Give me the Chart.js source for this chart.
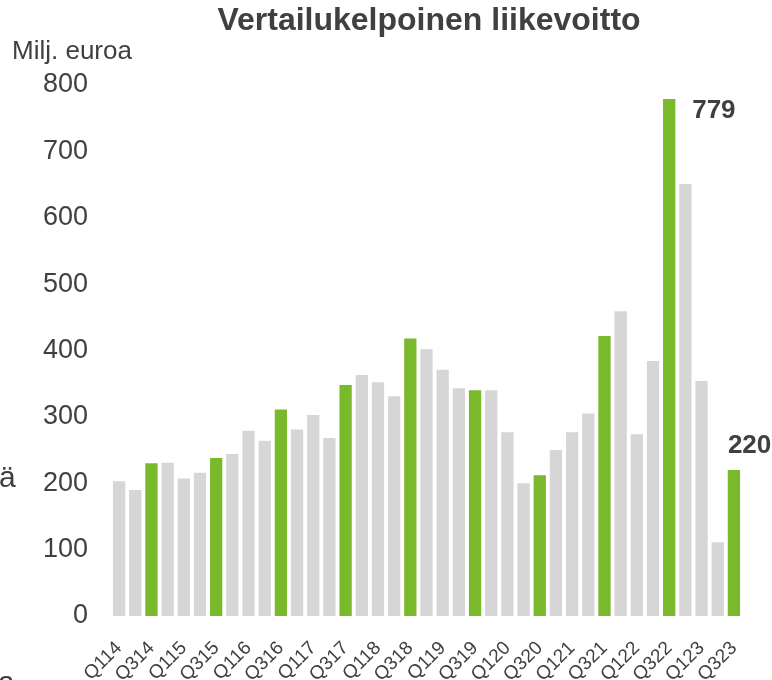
<!DOCTYPE html>
<html>
<head>
<meta charset="utf-8">
<script src="https://cdn.jsdelivr.net/npm/chart.js@4/dist/chart.umd.min.js"></script>
<style>
  body { margin: 0; background: #ffffff; }
  #wrap { width: 772px; height: 680px; position: relative; overflow: hidden; }
</style>
</head>
<body>
<div id="wrap"><canvas id="profitChart" width="772" height="680"></canvas></div>
<script>
const categories = [
    'Q114', 'Q214', 'Q314', 'Q414',
    'Q115', 'Q215', 'Q315', 'Q415',
    'Q116', 'Q216', 'Q316', 'Q416',
    'Q117', 'Q217', 'Q317', 'Q417',
    'Q118', 'Q218', 'Q318', 'Q418',
    'Q119', 'Q219', 'Q319', 'Q419',
    'Q120', 'Q220', 'Q320', 'Q420',
    'Q121', 'Q221', 'Q321', 'Q421',
    'Q122', 'Q222', 'Q322', 'Q422',
    'Q123', 'Q223', 'Q323'
]
const profitValues = [
    203, 190, 230, 231,
    207, 216, 238, 244,
    279, 264, 311, 281,
    303, 268, 348, 363,
    352, 331, 418, 402,
    371, 343, 340, 340,
    277, 200, 212, 250,
    277, 305, 422, 459,
    274, 384, 779, 651,
    354, 111, 220
]
const labelledBars = ['Q322', 'Q323']

const FONT = "'Liberation Sans', Arial, sans-serif"
const TEXT = '#404040'
const GREEN = '#7ab92b'
const GREY = '#d6d6d6'

const overlayText = {
    id: 'overlayText',
    afterDraw(chart) {
        const ctx = chart.ctx
        const meta = chart.getDatasetMeta(0)
        ctx.save()
        ctx.fillStyle = TEXT

        ctx.font = "bold 32px " + FONT
        ctx.textAlign = 'center'
        ctx.textBaseline = 'middle'
        ctx.fillText('Vertailukelpoinen liikevoitto', 429, 21)

        ctx.font = "26px " + FONT
        ctx.textAlign = 'left'
        ctx.fillText('Milj. euroa', 12, 52)

        // cut-off text from the neighbouring slide
        ctx.font = "30px " + FONT
        ctx.textBaseline = 'alphabetic'
        ctx.fillText('ä', -1, 487)
        ctx.fillText('a', -2, 692)

        ctx.font = "bold 26px " + FONT
        ctx.textBaseline = 'middle'
        ctx.textAlign = 'left'
        labelledBars.forEach(function (name) {
            const i = categories.indexOf(name)
            const bar = meta.data[i]
            const v = profitValues[i]
            if (name === 'Q322') {
                ctx.fillText(v, bar.x + 23, bar.y + 12)
            } else {
                ctx.fillText(v, bar.x - 6, bar.y - 24)
            }
        })
        ctx.restore()
    }
}

new Chart(document.getElementById('profitChart'), {
    type: 'bar',
    data: {
        labels: categories,
        datasets: [{
            data: profitValues,
            backgroundColor: categories.map(c => c.startsWith('Q3') ? GREEN : GREY),
            borderWidth: 0,
            barPercentage: 0.76,
            categoryPercentage: 1.0
        }]
    },
    options: {
        responsive: false,
        animation: false,
        layout: {
            padding: { top: 85, right: 30, left: 0, bottom: 0 }
        },
        scales: {
            x: {
                grid: { display: false },
                border: { display: false },
                ticks: {
                    autoSkip: false,
                    minRotation: 45,
                    maxRotation: 45,
                    padding: 13,
                    color: TEXT,
                    font: { size: 19, family: FONT },
                    callback: function (value, index) {
                        return index % 2 === 0 ? categories[index] : ''
                    }
                },
                afterFit: function (scale) { scale.height = 64 }
            },
            y: {
                min: 0,
                max: 800,
                grid: { display: false },
                border: { display: false },
                ticks: {
                    stepSize: 100,
                    padding: 15,
                    color: TEXT,
                    font: { size: 27, family: FONT }
                },
                afterFit: function (scale) { scale.width = 111 }
            }
        },
        plugins: {
            legend: { display: false },
            tooltip: { enabled: false }
        }
    },
    plugins: [overlayText]
})
</script>
</body>
</html>
